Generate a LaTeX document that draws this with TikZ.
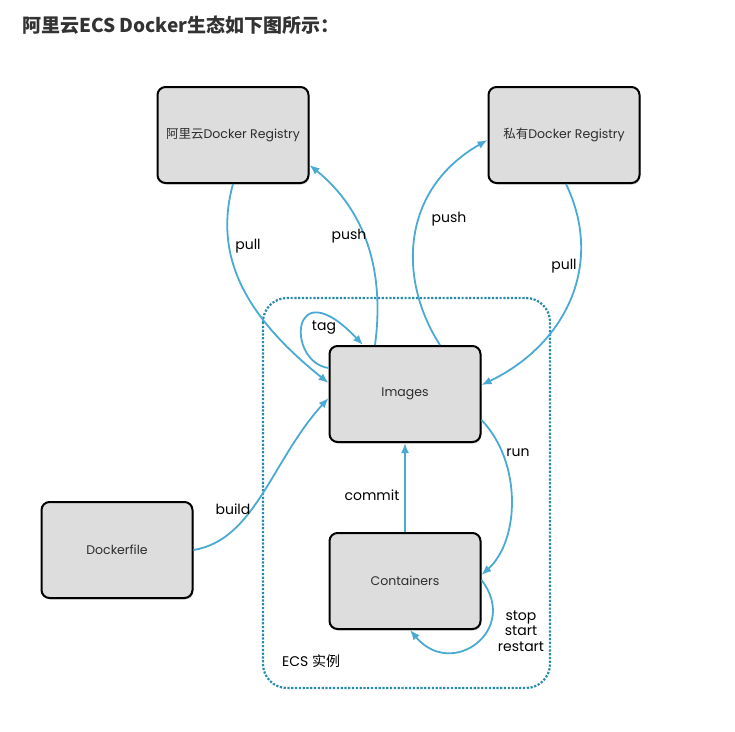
\documentclass[tikz,border=0pt]{standalone}
\usepackage{fontspec}
\setmainfont{Poppins}
\newfontfamily\cjk{Noto Sans CJK SC}
\usetikzlibrary{arrows.meta,shadows}
\definecolor{flow}{RGB}{74,170,212}
\definecolor{ecsline}{RGB}{40,140,168}
\definecolor{boxfill}{RGB}{221,221,221}
\definecolor{titlegray}{RGB}{51,51,51}
\definecolor{boxtext}{RGB}{45,45,45}
\begin{document}
\begin{tikzpicture}[x=1pt,y=-1pt,
        box/.style={draw=black,line width=2pt,fill=boxfill,rounded corners=8pt,
            minimum width=151pt,minimum height=96pt,text=boxtext,
            font=\fontsize{12.5}{14}\selectfont,
            drop shadow={shadow xshift=1pt,shadow yshift=-1.5pt,opacity=.35}},
        flowline/.style={draw=flow,line width=1.8pt,-{Latex[length=10pt,width=8pt]}},
        lbl/.style={font=\fontsize{14}{15}\selectfont,inner sep=0pt}]
    \useasboundingbox (0,0) rectangle (735,731);
    \node[anchor=west,inner sep=0pt,text=titlegray] (title) at (22,25)
        {\cjk\fontsize{19}{21}\selectfont\bfseries 阿里云ECS Docker生态如下图所示：};
    % ECS instance frame
    \draw[ecsline,line width=2.2pt,dash pattern=on 2.2pt off 1.6pt,rounded corners=24pt]
        (263,298) rectangle (550,688);
    \node[lbl,anchor=west] (ecs) at (282,661) {ECS {\cjk 实例}};
    % boxes
    \node[box] (aliyun) at (233,135) {{\cjk 阿里云}Docker Registry};
    \node[box] (private) at (564,135) {{\cjk 私有}Docker Registry};
    \node[box] (img) at (405,394) {Images};
    \node[box] (cont) at (405,581) {Containers};
    \node[box] (dfile) at (117,550) {Dockerfile};
    % connectors
    \draw[flowline] (aliyun.south) .. controls (212,260) and (250,320) .. ([yshift=11pt]img.west);
    \draw[flowline] ([xshift=-30pt]img.north) .. controls (385,270) and (365,210) .. ([yshift=-30pt]aliyun.east);
    \draw[flowline] ([xshift=35pt]img.north) .. controls (398,280) and (400,190) .. ([yshift=-5pt]private.west);
    \draw[flowline] ([xshift=2pt]private.south) .. controls (605,265) and (565,345) .. ([yshift=9pt]img.east);
    \draw[flowline] ([yshift=26pt]img.west) .. controls (286,362) and (290,268) .. ([xshift=-42pt]img.north);
    \draw[flowline] (dfile.east) .. controls (255,540) and (272,460) .. ([yshift=-4pt]img.west);
    \draw[flowline] ([yshift=-26pt]img.east) .. controls (522,462) and (520,540) .. ([yshift=6pt]cont.east);
    \draw[flowline] (cont.north) -- (img.south);
    \draw[flowline] ([yshift=1pt]cont.east) .. controls (520,630) and (452,680) .. ([xshift=5pt]cont.south);
    % labels
    \node[lbl] (lpull1) at (248,246) {pull};
    \node[lbl] (lpush1) at (349,236) {push};
    \node[lbl] (lpush2) at (449,219) {push};
    \node[lbl] (lpull2) at (564,266) {pull};
    \node[lbl] (ltag) at (324,328) {tag};
    \node[lbl] (lbuild) at (233,509) {build};
    \node[lbl] (lrun) at (518,453) {run};
    \node[lbl] (lcommit) at (372,495) {commit};
    \node[lbl,align=center,font=\fontsize{14}{15.5}\selectfont] (lstop) at (521,631) {stop\\start\\restart};
\end{tikzpicture}
\end{document}
